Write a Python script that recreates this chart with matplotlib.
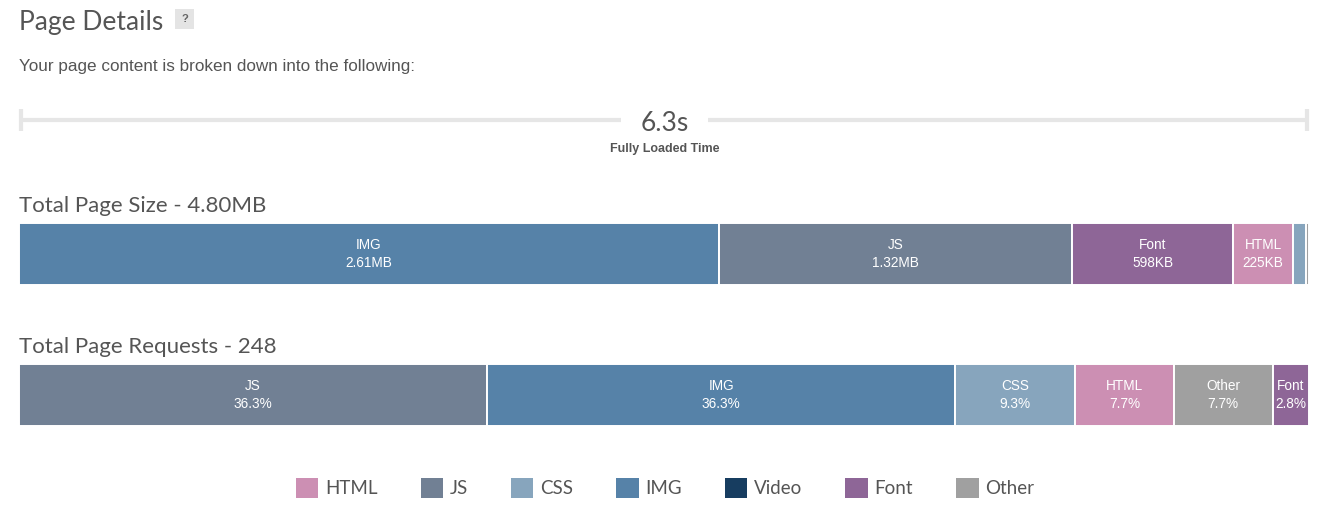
import matplotlib
matplotlib.use("Agg")
import matplotlib.pyplot as plt
from matplotlib.patches import Patch, Rectangle

# page size by type, in KB
size_types = ["IMG", "JS", "Font", "HTML", "CSS", "Other"]
size_kb = [2606, 1316, 598, 225, 46, 12]

# request counts by type
req_types = ["JS", "IMG", "CSS", "HTML", "Other", "Font"]
req_counts = [90, 90, 23, 19, 19, 7]

load_time = 6.3

legend_types = ["HTML", "JS", "CSS", "IMG", "Video", "Font", "Other"]
colors = {"HTML": "#cc8fb3", "JS": "#718094", "CSS": "#87a5bd", "IMG": "#5682a8",
          "Video": "#173d60", "Font": "#8e6697", "Other": "#a0a0a0"}

W, H = 1334, 522
head_font = "Lato"
body_font = "Liberation Sans"
grey_txt = "#555555"

fig = plt.figure(figsize=(W / 100, H / 100), dpi=100)
fig.patch.set_facecolor("white")

# overlay axes in pixel units for the text and the time line
ov = fig.add_axes([0, 0, 1, 1])
ov.set_xlim(0, W)
ov.set_ylim(H, 0)
ov.axis("off")

ov.text(19, 30, "Page Details", fontsize=19, family=head_font,
        color=grey_txt, va="baseline")
ov.add_patch(Rectangle((175, 9), 19, 20, color="#e4e4e4", lw=0))
ov.text(184.5, 19, "?", fontsize=8, family=body_font, weight="bold",
        color="#666666", ha="center", va="center")
ov.text(19, 71, "Your page content is broken down into the following:", fontsize=12.3,
        family=body_font, color=grey_txt, va="baseline")

# fully loaded time line
line_c = "#e6e6e6"
ov.plot([19, 621], [120, 120], color=line_c, lw=3, solid_capstyle="butt")
ov.plot([708, 1309], [120, 120], color=line_c, lw=3, solid_capstyle="butt")
ov.plot([21, 21], [109, 131], color=line_c, lw=3, solid_capstyle="butt")
ov.plot([1307, 1307], [109, 131], color=line_c, lw=3, solid_capstyle="butt")
ov.text(665, 131, f"{load_time}s", fontsize=19, family=head_font,
        color=grey_txt, ha="center", va="baseline")
ov.text(665, 152, "Fully Loaded Time", fontsize=9, family=body_font, weight="bold",
        color=grey_txt, ha="center", va="baseline")

total_kb = sum(size_kb)
total_req = sum(req_counts)
ov.text(19, 212, f"Total Page Size - {total_kb / 1000:.2f}MB", fontsize=16,
        family=head_font, color=grey_txt, va="baseline")
ov.text(19, 353, f"Total Page Requests - {total_req}", fontsize=16,
        family=head_font, color=grey_txt, va="baseline")


def fmt_kb(kb):
    if kb >= 1000:
        return f"{kb / 1000:.2f}MB"
    return f"{kb}KB"


def stacked_bar(top, types, values, labels):
    ax = fig.add_axes([19 / W, 1 - (top + 62) / H, 1290 / W, 62 / H])
    total = sum(values)
    left = 0
    for t, v, lab in zip(types, values, labels):
        ax.barh(0, v, left=left, height=1, color=colors[t], edgecolor="white", lw=1.4)
        if v / total > 0.02:
            ax.text(left + v / 2, 0, f"{t}\n{lab}", ha="center", va="center",
                    color="white", fontsize=9.8, family=body_font, linespacing=1.4)
        left += v
    ax.set_xlim(0, total)
    ax.set_ylim(-0.5, 0.5)
    ax.axis("off")


stacked_bar(223, size_types, size_kb, [fmt_kb(v) for v in size_kb])
stacked_bar(364, req_types, req_counts,
            [f"{100 * c / total_req:.1f}%" for c in req_counts])

handles = [Patch(facecolor=colors[t], edgecolor="none", label=t) for t in legend_types]
leg = fig.legend(handles=handles, loc="center", bbox_to_anchor=(665 / W, 1 - 488 / H),
                 ncol=7, frameon=False, handlelength=1.2, handleheight=1.2,
                 handletextpad=0.35, columnspacing=2.3,
                 prop={"family": head_font, "size": 13.5})
for txt in leg.get_texts():
    txt.set_color(grey_txt)

fig.savefig("out.png", dpi=100, facecolor="white")
